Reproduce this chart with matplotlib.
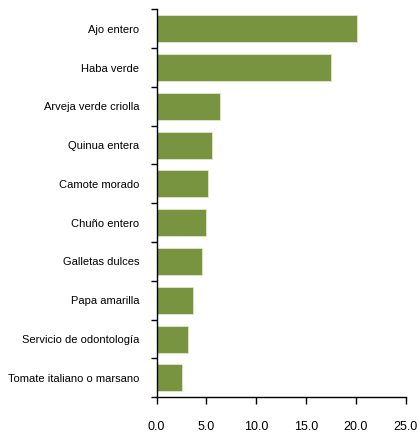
import matplotlib
matplotlib.use("Agg")
import matplotlib.pyplot as plt
import numpy as np
from matplotlib.ticker import FixedLocator

categories = ["Ajo entero", "Haba verde", "Arveja verde criolla", "Quinua entera",
              "Camote morado", "Chuño entero", "Galletas dulces", "Papa amarilla",
              "Servicio de odontología", "Tomate italiano o marsano"]
values = [20.1, 17.5, 6.4, 5.6, 5.2, 5.0, 4.6, 3.6, 3.1, 2.5]
xticks = [0.0, 5.0, 10.0, 15.0, 20.0, 25.0]

plt.rcParams['font.family'] = ['Liberation Sans', 'DejaVu Sans']

fig = plt.figure(figsize=(4.2, 4.33), dpi=100)
ax = fig.add_axes([0.373, 0.0825, 0.593, 0.896])

y = np.arange(len(categories))
ax.barh(y, values, height=0.7, color="#789440", edgecolor="#dfe8cc", linewidth=0.6)
ax.set_ylim(len(categories) - 0.5, -0.5)
ax.set_xlim(0, 25)

ax.set_yticks(y)
ax.set_yticklabels(categories, fontsize=8)
ax.yaxis.set_minor_locator(FixedLocator(np.arange(-0.5, len(categories), 1.0)))
ax.tick_params(axis='y', which='major', length=0, pad=12.7)
ax.tick_params(axis='y', which='minor', length=4, width=1, direction='out')

ax.set_xticks(xticks)
ax.set_xticklabels([f"{v:.1f}" for v in xticks], fontsize=9)
ax.tick_params(axis='x', which='major', length=5, width=1, direction='out', pad=12)

for s in ['top', 'right']:
    ax.spines[s].set_visible(False)
for s in ['left', 'bottom']:
    ax.spines[s].set_linewidth(1)

fig.savefig("out.png", dpi=100)
